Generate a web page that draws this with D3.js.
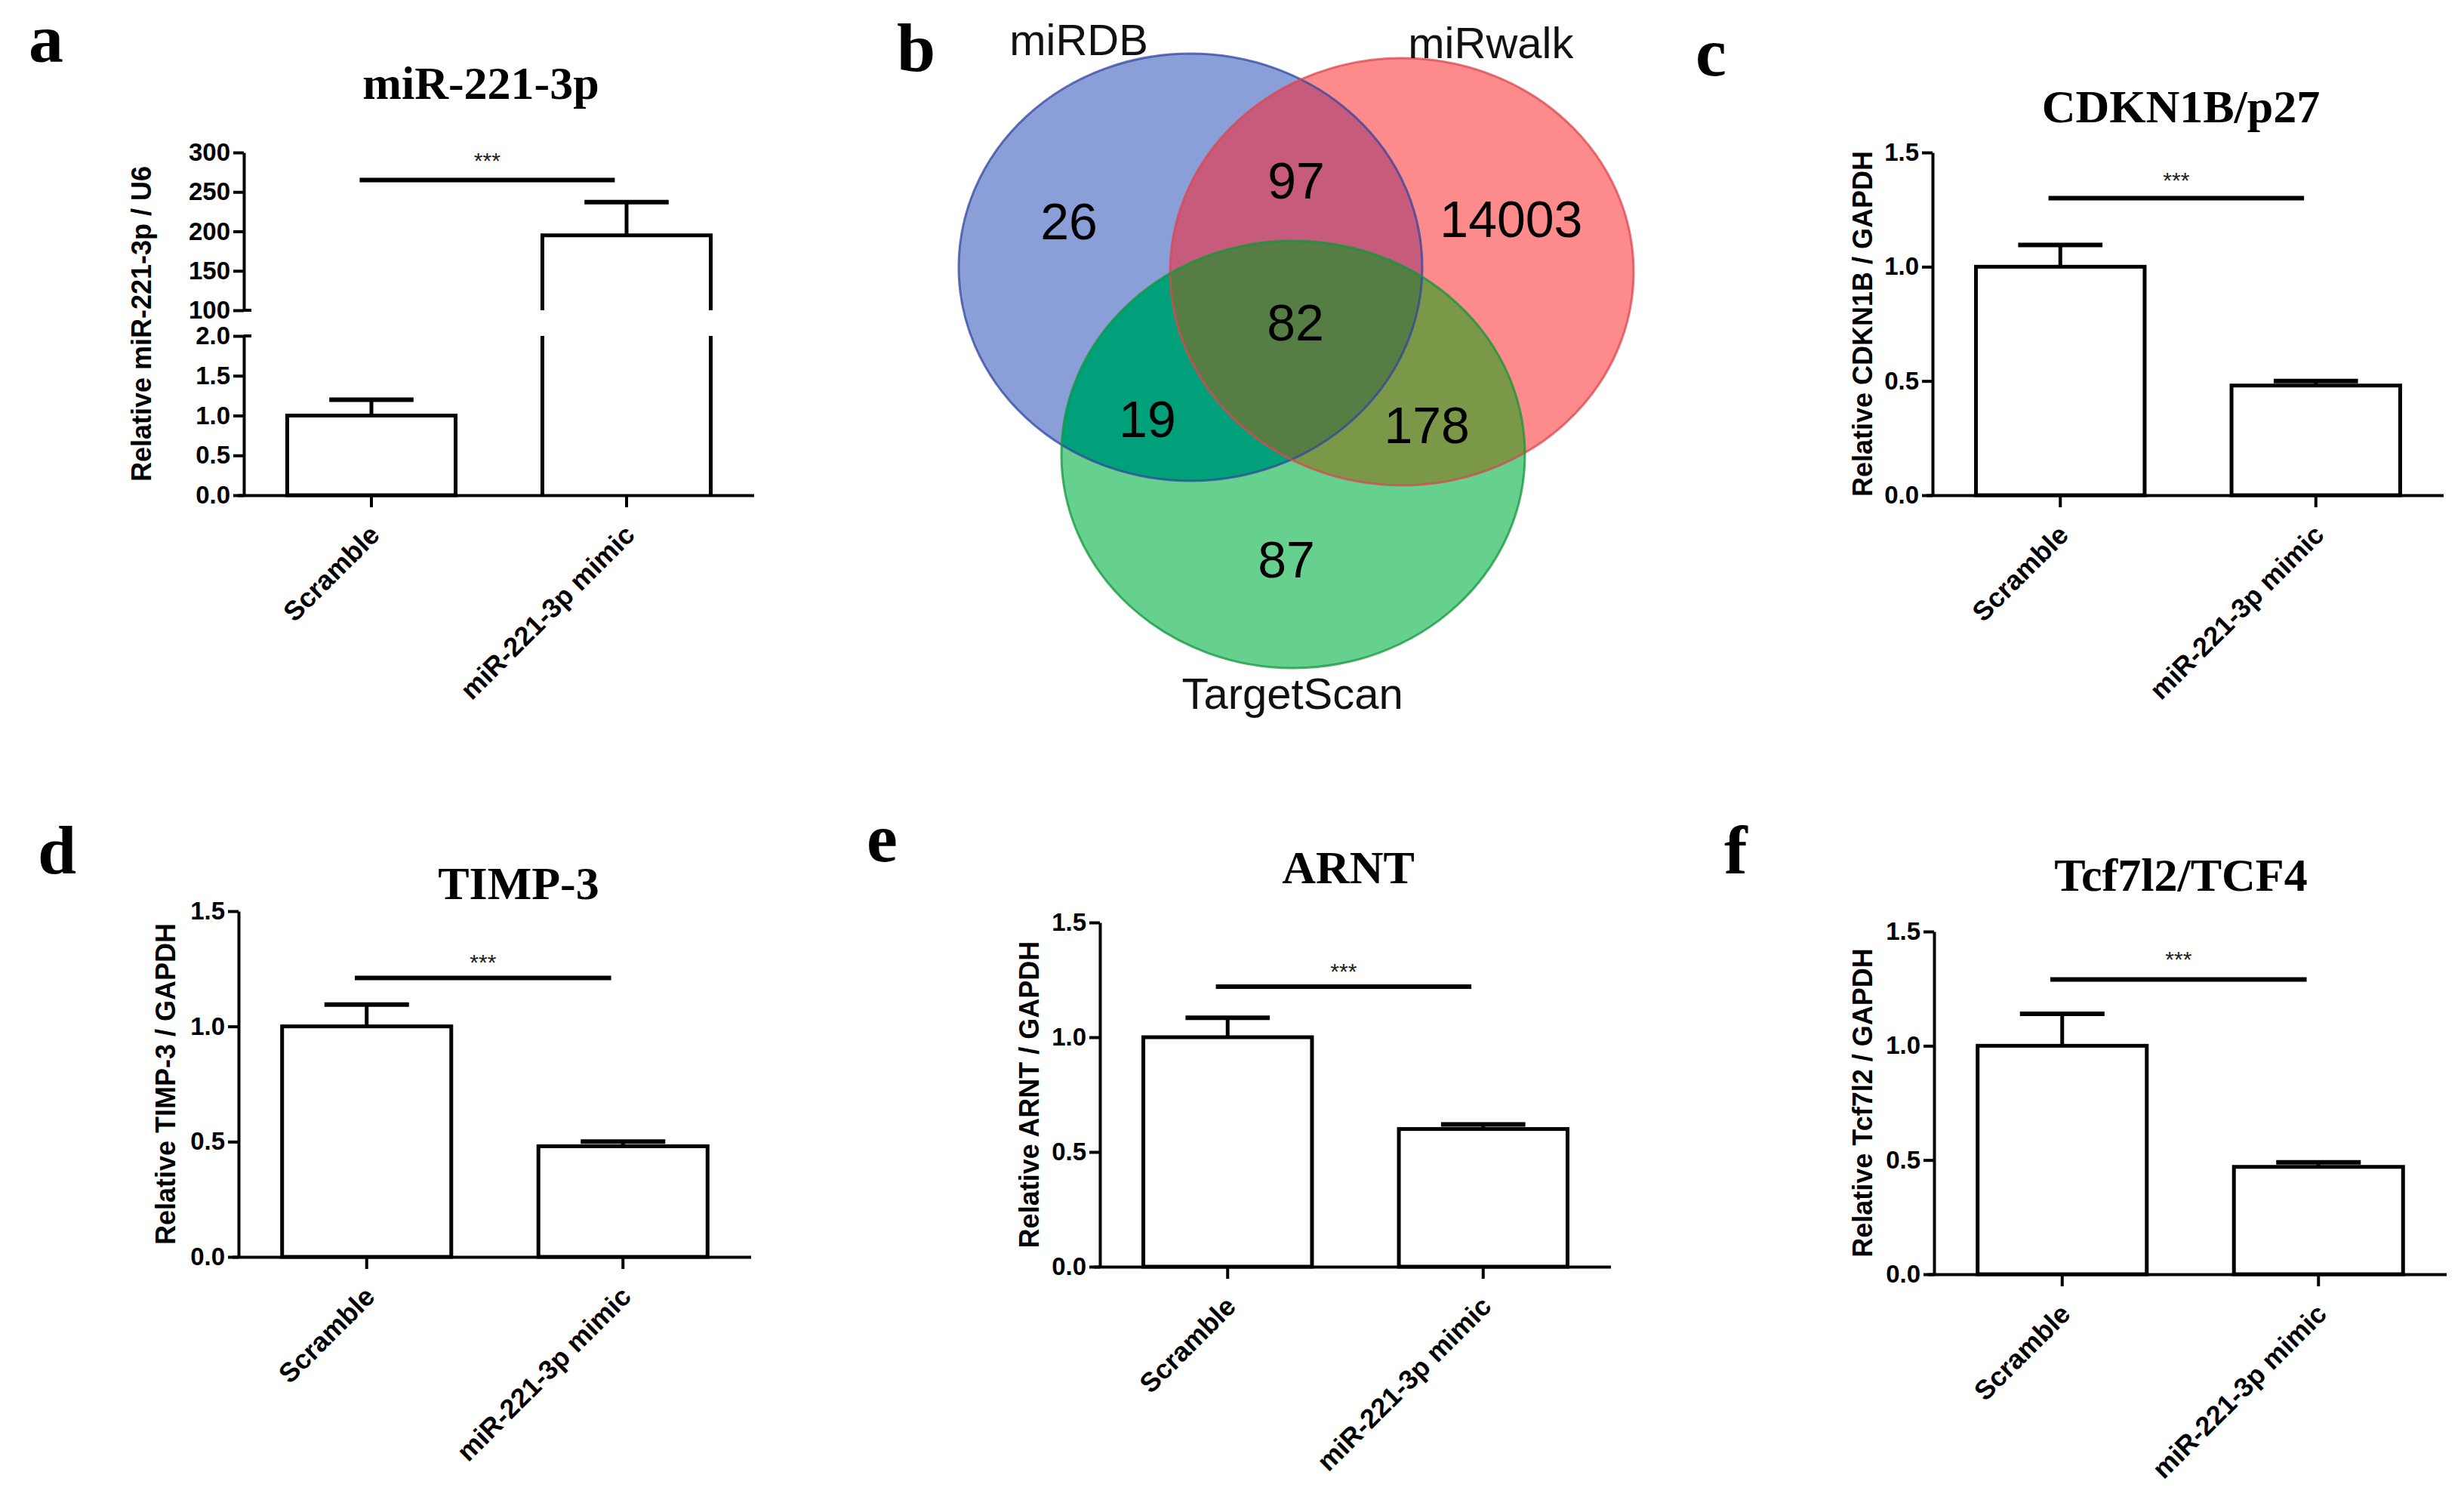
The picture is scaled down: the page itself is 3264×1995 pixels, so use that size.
<!DOCTYPE html>
<html>
<head>
<meta charset="utf-8">
<script src="https://cdn.jsdelivr.net/npm/d3@7"></script>
<style>
  body { margin: 0; background: #fff; }
  text { font-family: "Liberation Sans", Arial, sans-serif; }
</style>
</head>
<body>
<script>
// ---- data ----
var groups = ["Scramble", "miR-221-3p mimic"];

var mirMeans = [1.0, 195];
var mirErrors = [0.2, 42];
var cdknMeans = [1.0, 0.48];
var cdknErrors = [0.095, 0.02];
var timpMeans = [1.0, 0.48];
var timpErrors = [0.095, 0.02];
var arntMeans = [1.0, 0.60];
var arntErrors = [0.085, 0.02];
var tcfMeans = [1.0, 0.47];
var tcfErrors = [0.14, 0.02];

var lowTicks = [0, 0.5, 1.0, 1.5, 2.0];
var highTicks = [100, 150, 200, 250, 300];
var geneTicks = [0, 0.5, 1.0, 1.5];

var vennSets = ["miRDB", "miRwalk", "TargetScan"];
// regions: miRDB only, miRwalk only, TargetScan only, DB+walk, DB+TS, walk+TS, all three
var vennRegions = ["A", "B", "C", "AB", "AC", "BC", "ABC"];
var vennCounts = [26, 14003, 87, 97, 19, 178, 82];

// ---- page ----
var svg = d3.select("body").append("svg")
    .attr("width", 3264)
    .attr("height", 1995);

var serif = "'Liberation Serif', 'Times New Roman', serif";

function panelLetter(txt, x, y){
  svg.append("text").attr("x", x).attr("y", y)
     .style("font-family", serif).style("font-weight", "bold").style("font-size", "92px")
     .text(txt);
}

function panelTitle(txt, x, y){
  svg.append("text").attr("x", x).attr("y", y).attr("text-anchor", "middle")
     .style("font-family", serif).style("font-weight", "bold").style("font-size", "62px")
     .text(txt);
}

function styleAxis(ax){
  ax.select(".domain").attr("stroke", "#000").attr("stroke-width", 4);
  ax.selectAll(".tick line").attr("stroke", "#000").attr("stroke-width", 4);
  ax.selectAll(".tick text").attr("fill", "#000")
    .style("font-family", "'Liberation Sans', Arial, sans-serif")
    .style("font-weight", "bold").style("font-size", "33px");
}

function xAxis(g, x, y0){
  var ax = g.append("g").attr("transform", "translate(0," + y0 + ")")
     .call(d3.axisBottom(x).tickSize(16).tickSizeOuter(0));
  styleAxis(ax);
  ax.select(".domain").attr("d", "M-8,0.5H" + x.range()[1]);
  ax.selectAll(".tick text")
    .attr("x", 0).attr("y", 0).attr("dy", "0.35em")
    .attr("text-anchor", "end")
    .attr("transform", "translate(4,46) rotate(-45)")
    .style("font-size", "36px");
}

function yLabel(g, txt, x, cy){
  g.append("text").attr("transform", "translate(" + x + "," + cy + ") rotate(-90)")
   .attr("text-anchor", "middle").attr("dy", "0.35em")
   .style("font-weight", "bold").style("font-size", "36px")
   .text(txt);
}

function sigMark(g, x, y, ySig, yStar){
  var a = x(groups[0]) + x.bandwidth() * 0.43;
  var b = x(groups[1]) + x.bandwidth() * 0.43;
  g.append("line").attr("x1", a).attr("x2", b).attr("y1", y(ySig)).attr("y2", y(ySig))
   .attr("stroke", "#000").attr("stroke-width", 6);
  g.append("text").attr("x", (a + b) / 2).attr("y", y(yStar) + 17).attr("text-anchor", "middle")
   .style("font-size", "30px").attr("fill", "#222").text("***");
}

function errorBar(g, cx, capW, yBase, yTip){
  g.append("line").attr("x1", cx).attr("x2", cx).attr("y1", yBase).attr("y2", yTip)
   .attr("stroke", "#000").attr("stroke-width", 5);
  g.append("line").attr("x1", cx - capW / 2).attr("x2", cx + capW / 2).attr("y1", yTip).attr("y2", yTip)
   .attr("stroke", "#000").attr("stroke-width", 6);
}

// plain bar panel (c, d, e, f)
function barPanel(p){
  var g = svg.append("g").attr("transform", "translate(" + p.left + ",0)");
  var x = d3.scaleBand().domain(groups).range([0, p.width]).paddingInner(0.34).paddingOuter(0.17);
  var y = d3.scaleLinear().domain([0, 1.5]).range([p.bottom, p.top]);

  groups.forEach(function(gr, i){
    var cx = x(gr) + x.bandwidth() / 2;
    errorBar(g, cx, x.bandwidth() * 0.5, y(p.means[i]), y(p.means[i] + p.errors[i]));
  });
  g.selectAll("rect.bar").data(p.means).enter().append("rect")
   .attr("class", "bar")
   .attr("x", function(d, i){ return x(groups[i]); })
   .attr("y", function(d){ return y(d); })
   .attr("width", x.bandwidth())
   .attr("height", function(d){ return y(0) - y(d); })
   .attr("fill", "none").attr("stroke", "#000").attr("stroke-width", 5);

  var ya = g.append("g").call(d3.axisLeft(y).tickValues(geneTicks).tickFormat(d3.format(".1f"))
     .tickSize(14).tickSizeOuter(0).tickPadding(4));
  styleAxis(ya);
  xAxis(g, x, p.bottom);
  yLabel(g, p.ylabel, p.labelX, (p.top + p.bottom) / 2);
  sigMark(g, x, y, p.sig, p.star);
}

// ---- panel a: broken y axis ----
(function(){
  var left = 323, width = 676;
  var g = svg.append("g").attr("transform", "translate(" + left + ",0)");
  var x = d3.scaleBand().domain(groups).range([0, width]).paddingInner(0.34).paddingOuter(0.17);
  var yLow = d3.scaleLinear().domain([0, 2]).range([656, 445]).clamp(true);
  var yHigh = d3.scaleLinear().domain([100, 300]).range([411, 202]);
  var bw = x.bandwidth();

  mirMeans.forEach(function(m, i){
    var x0 = x(groups[i]), cx = x0 + bw / 2;
    if (m <= 2){
      errorBar(g, cx, bw * 0.5, yLow(m), yLow(m + mirErrors[i]));
      g.append("rect").attr("x", x0).attr("y", yLow(m)).attr("width", bw)
       .attr("height", yLow(0) - yLow(m))
       .attr("fill", "none").attr("stroke", "#000").attr("stroke-width", 5);
    } else {
      errorBar(g, cx, bw * 0.5, yHigh(m), yHigh(m + mirErrors[i]));
      // lower segment: open sides up to the break
      g.append("path")
       .attr("d", "M" + x0 + "," + yLow(0) + "V" + yLow(2) + "M" + (x0 + bw) + "," + yLow(0) + "V" + yLow(2))
       .attr("fill", "none").attr("stroke", "#000").attr("stroke-width", 5);
      // upper segment
      g.append("path")
       .attr("d", "M" + x0 + "," + yHigh(100) + "V" + yHigh(m) + "H" + (x0 + bw) + "V" + yHigh(100))
       .attr("fill", "none").attr("stroke", "#000").attr("stroke-width", 5);
    }
  });

  var lowAx = g.append("g").call(d3.axisLeft(yLow).tickValues(lowTicks).tickFormat(d3.format(".1f"))
     .tickSize(14).tickSizeOuter(0).tickPadding(4));
  styleAxis(lowAx);
  var highAx = g.append("g").call(d3.axisLeft(yHigh).tickValues(highTicks).tickFormat(d3.format("d"))
     .tickSize(14).tickSizeOuter(0).tickPadding(4));
  styleAxis(highAx);
  // break stubs
  [yLow(2), yHigh(100)].forEach(function(v){
    g.append("line").attr("x1", 0).attr("x2", 10).attr("y1", v).attr("y2", v)
     .attr("stroke", "#000").attr("stroke-width", 4);
  });

  xAxis(g, x, yLow(0));
  yLabel(g, "Relative miR-221-3p / U6", -136, 429);

  var a = x(groups[0]) + bw * 0.43, b = x(groups[1]) + bw * 0.43;
  g.append("line").attr("x1", a).attr("x2", b).attr("y1", yHigh(265)).attr("y2", yHigh(265))
   .attr("stroke", "#000").attr("stroke-width", 6);
  g.append("text").attr("x", (a + b) / 2).attr("y", yHigh(296) + 17).attr("text-anchor", "middle")
   .style("font-size", "30px").attr("fill", "#222").text("***");
})();

panelLetter("a", 38, 82);
panelTitle("miR-221-3p", 637, 131);

// ---- panel b: Venn (the published figure is slightly stretched, so ellipses) ----
(function(){
  var rx = 307, ry = 283, bx = 1577, by = 354;
  var centers = [[bx, by], [bx + 0.912 * rx, by + 0.021 * ry], [bx + 0.443 * rx, by + 0.876 * ry]];
  var fills = { A: "#8a9fd8", B: "#fd8b8b", C: "#66d18f", AB: "#c65b7c", AC: "#00a07a", BC: "#7a9848", ABC: "#557d44" };
  var strokes = ["rgba(50,70,160,0.75)", "rgba(220,70,80,0.75)", "rgba(20,150,60,0.75)"];
  // label offsets in radius units from the miRDB centre
  var regionPos = { A: [-0.524, -0.216], B: [1.384, -0.226], C: [0.414, 1.367],
                    AB: [0.456, -0.406], AC: [-0.186, 0.710], BC: [1.02, 0.739], ABC: [0.453, 0.258] };
  var setPos = [[-0.482, -1.064], [1.296, -1.05], [0.44, 1.996]];

  var defs = svg.append("defs");
  ["A", "B", "C"].forEach(function(k, i){
    defs.append("clipPath").attr("id", "clip" + k).append("ellipse")
      .attr("cx", centers[i][0]).attr("cy", centers[i][1]).attr("rx", rx).attr("ry", ry);
  });

  var g = svg.append("g");
  function disc(parent, i, fill){
    parent.append("ellipse").attr("cx", centers[i][0]).attr("cy", centers[i][1])
      .attr("rx", rx).attr("ry", ry).attr("fill", fill);
  }
  disc(g, 0, fills.A); disc(g, 1, fills.B); disc(g, 2, fills.C);
  disc(g.append("g").attr("clip-path", "url(#clipA)"), 1, fills.AB);
  disc(g.append("g").attr("clip-path", "url(#clipA)"), 2, fills.AC);
  disc(g.append("g").attr("clip-path", "url(#clipB)"), 2, fills.BC);
  disc(g.append("g").attr("clip-path", "url(#clipA)").append("g").attr("clip-path", "url(#clipB)"), 2, fills.ABC);

  g.selectAll("ellipse.outline").data(centers).enter().append("ellipse")
   .attr("class", "outline")
   .attr("cx", function(d){ return d[0]; }).attr("cy", function(d){ return d[1]; })
   .attr("rx", rx).attr("ry", ry)
   .attr("fill", "none").attr("stroke", function(d, i){ return strokes[i]; }).attr("stroke-width", 3);

  g.selectAll("text.count").data(vennCounts).enter().append("text")
   .attr("class", "count")
   .attr("x", function(d, i){ return bx + regionPos[vennRegions[i]][0] * rx; })
   .attr("y", function(d, i){ return by + regionPos[vennRegions[i]][1] * ry; })
   .attr("text-anchor", "middle").attr("dominant-baseline", "central")
   .style("font-size", "68px").attr("fill", "#000")
   .text(function(d){ return d; });

  g.selectAll("text.set").data(vennSets).enter().append("text")
   .attr("class", "set")
   .attr("x", function(d, i){ return bx + setPos[i][0] * rx; })
   .attr("y", function(d, i){ return by + setPos[i][1] * ry; })
   .attr("text-anchor", "middle").attr("dominant-baseline", "central")
   .style("font-size", "58px").attr("fill", "#111")
   .text(function(d){ return d; });
})();

panelLetter("b", 1188, 94);

// ---- panels c-f ----
barPanel({ left: 2560, width: 677, top: 202, bottom: 656, means: cdknMeans, errors: cdknErrors,
           ylabel: "Relative CDKN1B / GAPDH", labelX: -93, sig: 1.30, star: 1.40 });
panelLetter("c", 2246, 100);
panelTitle("CDKN1B/p27", 2889, 162);

barPanel({ left: 316, width: 679, top: 1207, bottom: 1665, means: timpMeans, errors: timpErrors,
           ylabel: "Relative TIMP-3 / GAPDH", labelX: -97, sig: 1.21, star: 1.30 });
panelLetter("d", 50, 1157);
panelTitle("TIMP-3", 687, 1191);

barPanel({ left: 1457, width: 677, top: 1222, bottom: 1678, means: arntMeans, errors: arntErrors,
           ylabel: "Relative ARNT / GAPDH", labelX: -94, sig: 1.22, star: 1.31 });
panelLetter("e", 1148, 1141);
panelTitle("ARNT", 1786, 1170);

barPanel({ left: 2562, width: 679, top: 1234, bottom: 1688, means: tcfMeans, errors: tcfErrors,
           ylabel: "Relative Tcf7l2 / GAPDH", labelX: -95, sig: 1.29, star: 1.40 });
panelLetter("f", 2284, 1157);
panelTitle("Tcf7l2/TCF4", 2889, 1180);
</script>
</body>
</html>
